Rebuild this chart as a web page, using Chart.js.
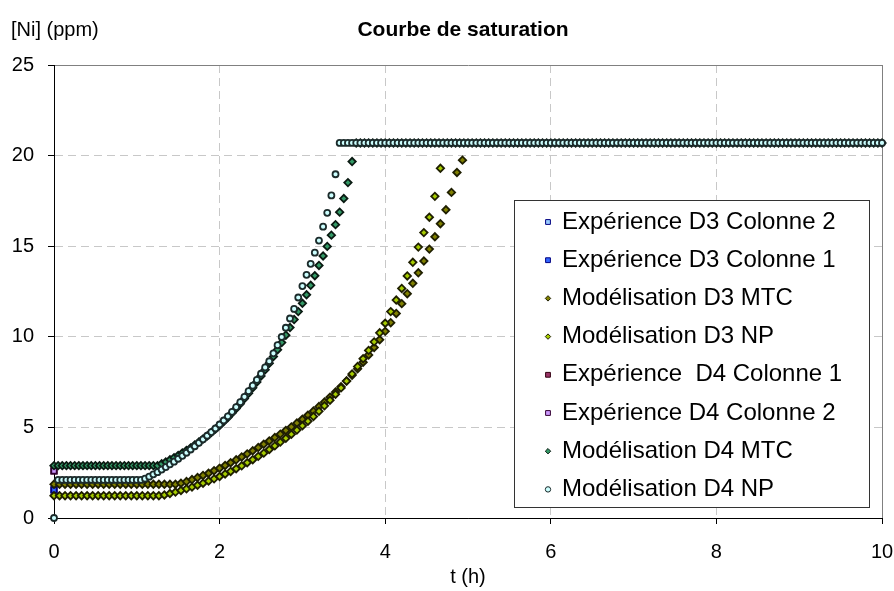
<!DOCTYPE html>
<html>
<head>
<meta charset="utf-8">
<title>Courbe de saturation</title>
<script src="https://cdn.jsdelivr.net/npm/chart.js@4/dist/chart.umd.min.js"></script>
<style>
  html, body { margin: 0; padding: 0; background: #fff; }
  canvas { display: block; }
</style>
</head>
<body>
<canvas id="chart" width="894" height="591"></canvas>
<script>
// Courbe de saturation - [Ni] (ppm) vs t (h)

// time grids (minutes)
const tExpMin = [0];
const tD3Min = [
  0,4,8,12,16,20,24,28,32,36,40,44,48,52,56,60,64,68,72,76,
  80,84,88,92,96,100,104,108,112,116,120,124,128,132,136,140,144,148,152,156,
  160,164,168,172,176,180,184,188,192,196,200,204,208,212,216,220,224,228,232,236,
  240,244,248,252,256,260,264,268,272,276,280,284,288,292,296
];
const tD4Min = [
  0,3,6,9,12,15,18,21,24,27,30,33,36,39,42,45,48,51,54,57,
  60,63,66,69,72,75,78,81,84,87,90,93,96,99,102,105,108,111,114,117,
  120,123,126,129,132,135,138,141,144,147,150,153,156,159,162,165,168,171,174,177,
  180,183,186,189,192,195,198,201,204,207,210,213,216,219,222,225,228,231,234,237,
  240,243,246,249,252,255,258,261,264,267,270,273,276,279,282,285,288,291,294,297,
  300,303,306,309,312,315,318,321,324,327,330,333,336,339,342,345,348,351,354,357,
  360,363,366,369,372,375,378,381,384,387,390,393,396,399,402,405,408,411,414,417,
  420,423,426,429,432,435,438,441,444,447,450,453,456,459,462,465,468,471,474,477,
  480,483,486,489,492,495,498,501,504,507,510,513,516,519,522,525,528,531,534,537,
  540,543,546,549,552,555,558,561,564,567,570,573,576,579,582,585,588,591,594,597,
  600
];

// [Ni] (ppm)
const expD3Col2 = [1.55];
const expD3Col1 = [1.55];
const expD4Col1 = [2.6];
const expD4Col2 = [2.6];

const modD3MTC = [
  1.86,1.86,1.86,1.86,1.86,1.86,1.86,1.86,1.86,1.86,1.86,1.86,1.86,1.86,1.86,1.86,1.86,1.86,1.86,1.86,
  1.86,1.86,1.86,1.92,2.01,2.12,2.23,2.35,2.47,2.61,2.75,2.90,3.05,3.21,3.37,3.54,3.71,3.89,4.07,4.25,
  4.44,4.63,4.83,5.03,5.24,5.45,5.67,5.90,6.15,6.40,6.67,6.95,7.25,7.56,7.88,8.23,8.60,9.00,9.41,9.84,
  10.30,10.78,11.29,11.83,12.38,12.95,13.53,14.18,14.84,15.52,16.24,17.01,17.97,19.07,19.75
];
const modD3NP = [
  1.23,1.23,1.23,1.23,1.23,1.23,1.23,1.23,1.23,1.23,1.23,1.23,1.23,1.23,1.23,1.23,1.23,1.23,1.23,1.23,
  1.27,1.35,1.43,1.52,1.61,1.71,1.81,1.92,2.04,2.16,2.29,2.43,2.57,2.72,2.88,3.05,3.22,3.40,3.58,3.78,
  3.98,4.19,4.40,4.62,4.85,5.09,5.34,5.60,5.89,6.19,6.50,6.83,7.18,7.56,7.95,8.36,8.79,9.25,9.72,10.22,
  10.75,11.39,12.03,12.67,13.36,14.11,14.95,15.75,16.60,17.75,19.30
];
const modD4MTC = [
  2.89,2.89,2.89,2.89,2.89,2.89,2.89,2.89,2.89,2.89,2.89,2.89,2.89,2.89,2.89,2.89,2.89,2.89,2.89,2.89,
  2.89,2.89,2.89,2.89,2.89,2.89,2.99,3.09,3.21,3.33,3.45,3.59,3.73,3.87,4.03,4.19,4.36,4.53,4.72,4.91,
  5.10,5.32,5.55,5.79,6.04,6.31,6.59,6.88,7.19,7.51,7.84,8.18,8.54,8.91,9.29,9.68,10.09,10.51,10.95,11.39,
  11.85,12.32,12.84,13.37,13.94,14.46,14.99,15.61,16.19,16.88,17.63,18.51,19.67,20.7,20.7,20.7,20.7,20.7,20.7,20.7,
  20.7,20.7,20.7,20.7,20.7,20.7,20.7,20.7,20.7,20.7,20.7,20.7,20.7,20.7,20.7,20.7,20.7,20.7,20.7,20.7,
  20.7,20.7,20.7,20.7,20.7,20.7,20.7,20.7,20.7,20.7,20.7,20.7,20.7,20.7,20.7,20.7,20.7,20.7,20.7,20.7,
  20.7,20.7,20.7,20.7,20.7,20.7,20.7,20.7,20.7,20.7,20.7,20.7,20.7,20.7,20.7,20.7,20.7,20.7,20.7,20.7,
  20.7,20.7,20.7,20.7,20.7,20.7,20.7,20.7,20.7,20.7,20.7,20.7,20.7,20.7,20.7,20.7,20.7,20.7,20.7,20.7,
  20.7,20.7,20.7,20.7,20.7,20.7,20.7,20.7,20.7,20.7,20.7,20.7,20.7,20.7,20.7,20.7,20.7,20.7,20.7,20.7,
  20.7,20.7,20.7,20.7,20.7,20.7,20.7,20.7,20.7,20.7,20.7,20.7,20.7,20.7,20.7,20.7,20.7,20.7,20.7,20.7,
  20.7
];
const modD4NP = [
  0,2.1,2.1,2.1,2.1,2.1,2.1,2.1,2.1,2.1,2.1,2.1,2.1,2.1,2.1,2.1,2.1,2.1,2.1,2.1,
  2.1,2.1,2.17,2.28,2.41,2.53,2.67,2.81,2.96,3.11,3.27,3.43,3.60,3.78,3.96,4.15,4.34,4.54,4.74,4.94,
  5.16,5.38,5.61,5.86,6.12,6.39,6.69,7.00,7.30,7.62,7.96,8.31,8.65,9.09,9.54,9.99,10.50,11.01,11.54,12.17,
  12.80,13.42,14.03,14.64,15.31,16.08,16.84,17.80,18.97,20.7,20.7,20.7,20.7,20.7,20.7,20.7,20.7,20.7,20.7,20.7,
  20.7,20.7,20.7,20.7,20.7,20.7,20.7,20.7,20.7,20.7,20.7,20.7,20.7,20.7,20.7,20.7,20.7,20.7,20.7,20.7,
  20.7,20.7,20.7,20.7,20.7,20.7,20.7,20.7,20.7,20.7,20.7,20.7,20.7,20.7,20.7,20.7,20.7,20.7,20.7,20.7,
  20.7,20.7,20.7,20.7,20.7,20.7,20.7,20.7,20.7,20.7,20.7,20.7,20.7,20.7,20.7,20.7,20.7,20.7,20.7,20.7,
  20.7,20.7,20.7,20.7,20.7,20.7,20.7,20.7,20.7,20.7,20.7,20.7,20.7,20.7,20.7,20.7,20.7,20.7,20.7,20.7,
  20.7,20.7,20.7,20.7,20.7,20.7,20.7,20.7,20.7,20.7,20.7,20.7,20.7,20.7,20.7,20.7,20.7,20.7,20.7,20.7,
  20.7,20.7,20.7,20.7,20.7,20.7,20.7,20.7,20.7,20.7,20.7,20.7,20.7,20.7,20.7,20.7,20.7,20.7,20.7,20.7,
  20.7
];

const xTicks = [0, 2, 4, 6, 8, 10];
const yTicks = [0, 5, 10, 15, 20, 25];

const FONT = '"Liberation Sans", Arial, sans-serif';

const series = [
  { label: 'Expérience D3 Colonne 2', t: tExpMin, y: expD3Col2, shape: 'rect', fill: '#99ccff', edge: '#000080', r: 3.8 },
  { label: 'Expérience D3 Colonne 1', t: tExpMin, y: expD3Col1, shape: 'rect', fill: '#3366ff', edge: '#000080', r: 3.8 },
  { label: 'Modélisation D3 MTC', t: tD3Min, y: modD3MTC, shape: 'rectRot', fill: '#808000', edge: '#1f1f00', r: 3.7 },
  { label: 'Modélisation D3 NP', t: tD3Min, y: modD3NP, shape: 'rectRot', fill: '#a6cc00', edge: '#1f1f00', r: 3.7 },
  { label: 'Expérience  D4 Colonne 1', t: tExpMin, y: expD4Col1, shape: 'rect', fill: '#993366', edge: '#330011', r: 3.8 },
  { label: 'Expérience D4 Colonne 2', t: tExpMin, y: expD4Col2, shape: 'rect', fill: '#cc99ff', edge: '#330033', r: 3.8 },
  { label: 'Modélisation D4 MTC', t: tD4Min, y: modD4MTC, shape: 'rectRot', fill: '#339966', edge: '#0a1a12', r: 3.7 },
  { label: 'Modélisation D4 NP', t: tD4Min, y: modD4NP, shape: 'circle', fill: '#ccffff', edge: '#1c2b2b', r: 3 }
];

const datasets = series.map((s, i) => ({
  label: s.label,
  data: s.y.map((v, k) => ({ x: s.t[k] / 60, y: v })),
  pointStyle: s.shape,
  pointRadius: s.r,
  pointBackgroundColor: s.fill,
  pointBorderColor: s.edge,
  pointBorderWidth: 1.8,
  showLine: false,
  clip: false,
  order: series.length - i   // later series drawn on top, as in the original
}));

// plain texts: y unit, title, x title
const chartTexts = {
  id: 'chartTexts',
  afterDraw(chart) {
    const { ctx, chartArea } = chart;
    ctx.save();
    ctx.fillStyle = '#000';
    ctx.textBaseline = 'middle';
    ctx.font = '20px ' + FONT;
    ctx.textAlign = 'left';
    ctx.fillText('[Ni] (ppm)', 11, 30);
    ctx.textAlign = 'center';
    ctx.fillText('t (h)', (chartArea.left + chartArea.right) / 2, 577);
    ctx.font = 'bold 21px ' + FONT;
    ctx.fillText('Courbe de saturation', 463, 30);
    ctx.restore();
  }
};

// boxed legend inside the plot area
const legendBox = {
  id: 'legendBox',
  afterDatasetsDraw(chart) {
    const { ctx, chartArea } = chart;
    const left = chartArea.right - 368;
    const top = chartArea.top + 135;
    const w = 355, h = 307;
    ctx.save();
    ctx.fillStyle = '#fff';
    ctx.fillRect(left, top, w, h);
    ctx.strokeStyle = '#333';
    ctx.lineWidth = 1;
    ctx.strokeRect(Math.round(left) + 0.5, Math.round(top) + 0.5, w, h);
    ctx.font = '24px ' + FONT;
    ctx.textBaseline = 'middle';
    ctx.textAlign = 'left';
    series.forEach((s, i) => {
      const y = top + 22 + i * 38.2;
      ctx.fillStyle = s.fill;
      ctx.strokeStyle = s.edge;
      ctx.lineWidth = 1;
      Chart.helpers.drawPoint(ctx, { pointStyle: s.shape, radius: s.shape === 'rect' ? 3.4 : 2.7, rotation: 0, borderWidth: 1 }, left + 34, y);
      ctx.fillStyle = '#000';
      ctx.fillText(s.label, left + 48, y);
    });
    ctx.restore();
  }
};

const gridColor = (max) => (ctx) => {
  const v = ctx.tick ? ctx.tick.value : null;
  if (v === 0) return '#000';
  if (v === max) return '#808080';
  return '#c8c8c8';
};
const gridDash = (max) => (ctx) => {
  if (!ctx.tick || ctx.tick.value === 0 || ctx.tick.value === max) return [];
  return [8, 5];
};

new Chart(document.getElementById('chart'), {
  type: 'scatter',
  data: { datasets },
  options: {
    responsive: false,
    animation: false,
    devicePixelRatio: 1,
    layout: { padding: { top: 65, right: 12, left: 0, bottom: 0 } },
    plugins: {
      legend: { display: false },
      tooltip: { enabled: false },
      title: { display: false }
    },
    scales: {
      x: {
        type: 'linear',
        min: 0,
        max: 10,
        afterBuildTicks: (scale) => { scale.ticks = xTicks.map(v => ({ value: v })); },
        afterFit: (scale) => { scale.height = 73; scale.paddingLeft = 0; scale.paddingRight = 0; },
        ticks: { color: '#000', font: { family: FONT, size: 20 }, padding: 16, maxRotation: 0 },
        grid: { color: gridColor(10), lineWidth: 1, tickColor: '#000', tickLength: 6 },
        border: { color: '#000', width: 1, dash: gridDash(10) }
      },
      y: {
        type: 'linear',
        min: 0,
        max: 25,
        afterBuildTicks: (scale) => { scale.ticks = yTicks.map(v => ({ value: v })); },
        afterFit: (scale) => { scale.width = 54; scale.paddingTop = 0; scale.paddingBottom = 0; },
        ticks: { color: '#000', font: { family: FONT, size: 20 }, padding: 14 },
        grid: { color: gridColor(25), lineWidth: 1, tickColor: '#000', tickLength: 6 },
        border: { color: '#000', width: 1, dash: gridDash(25) }
      }
    }
  },
  plugins: [legendBox, chartTexts]
});
</script>
</body>
</html>
